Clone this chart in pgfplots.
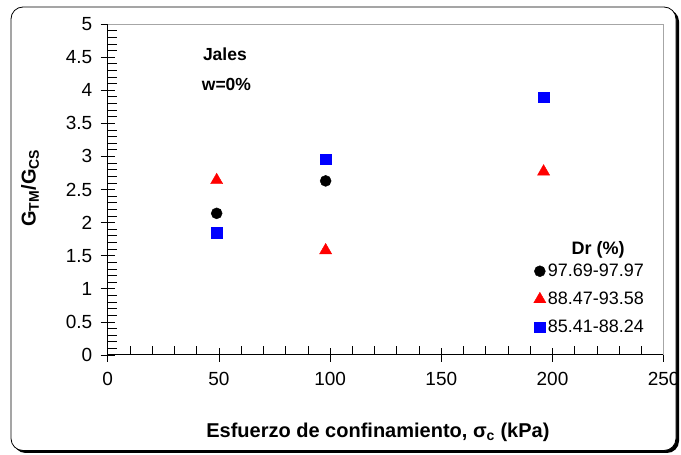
\documentclass[border=0pt]{standalone}
\usepackage{fontspec}
\setmainfont{Liberation Sans}
\usepackage{pgfplots}
\pgfplotsset{compat=1.18}
\begin{document}
\begin{tikzpicture}[x=1pt,y=1pt]
\useasboundingbox (0,0) rectangle (681,455);
% frame with shadow
\fill[black, rounded corners=12pt] (13.5,2) rectangle (679,445.5);
\filldraw[fill=white, draw=black, line width=0.8pt, rounded corners=12pt] (11,4.5) rectangle (676,448);
\begin{axis}[
  at={(107.7pt,100pt)}, anchor=south west,
  scale only axis, width=556pt, height=331pt,
  xmin=0, xmax=250, ymin=0, ymax=5,
  axis lines*=left,
  axis line style={line width=1pt},
  xtick={0,50,...,250}, ytick={0,0.5,...,5},
  minor x tick num=4, minor y tick num=4,
  tick align=center,
  major tick length=14pt, minor tick length=9pt,
  minor x tick style={yshift=4.5pt},
  minor y tick style={xshift=4.5pt},
  every tick/.style={black, line width=0.7pt},
  /pgf/number format/assume math mode=true,
  tick label style={font=\fontsize{19}{22}\selectfont},
  xticklabel style={yshift=-7pt},
  yticklabel style={xshift=-5pt},
  xticklabel={\pgfmathprintnumber[fixed]{\tick}},
  yticklabel={\pgfmathprintnumber[fixed]{\tick}},
  xlabel={\textbf{Esfuerzo de confinamiento, σ\textsubscript{c} (kPa)}},
  ylabel={\textbf{G\textsubscript{TM}/G\textsubscript{CS}}},
  label style={font=\fontsize{20}{23}\selectfont},
  xlabel style={at={(axis description cs:0.486,-0.2326)}, anchor=center},
  ylabel style={at={(axis description cs:-0.1397,0.5045)}, anchor=center},
  clip=false,
  legend style={at={(axis description cs:0.766,0.281)}, anchor=north west, draw=none, fill=none,
     font=\fontsize{18}{21}\selectfont, row sep=10pt, inner sep=0pt,
     /tikz/every even column/.append style={column sep=0pt}},
  legend cell align=left,
  legend image code/.code={\draw[mark repeat=2,mark phase=2,#1] plot coordinates {(0cm,0cm)(0.2cm,0cm)(0.4cm,0cm)};},
]
\draw[gray!70, line width=0.8pt] (rel axis cs:0,1) -- (rel axis cs:1,1) -- (rel axis cs:1,0);
\addplot[only marks, mark=*, mark size=5.5pt, black, mark options={fill=black}]
  coordinates {(49,2.14) (98,2.63)};
\addlegendentry{97.69-97.97}
\addplot[only marks, mark=triangle*, mark size=7pt, red, mark options={fill=red}]
  coordinates {(49,2.64) (98,1.58) (196,2.77)};
\addlegendentry{88.47-93.58}
\addplot[only marks, mark=square*, mark size=5.2pt, blue, mark options={fill=blue}]
  coordinates {(49,1.85) (98,2.96) (196,3.89)};
\addlegendentry{85.41-88.24}
\node[font=\bfseries\fontsize{17.5}{20}\selectfont] at (axis cs:52.7,4.547) {Jales};
\node[font=\bfseries\fontsize{17.5}{20}\selectfont] at (axis cs:53.4,4.08) {w=0\%};
\node[font=\bfseries\fontsize{18}{21}\selectfont] at (axis cs:220.5,1.586) {Dr (\%)};
\end{axis}
\end{tikzpicture}
\end{document}
